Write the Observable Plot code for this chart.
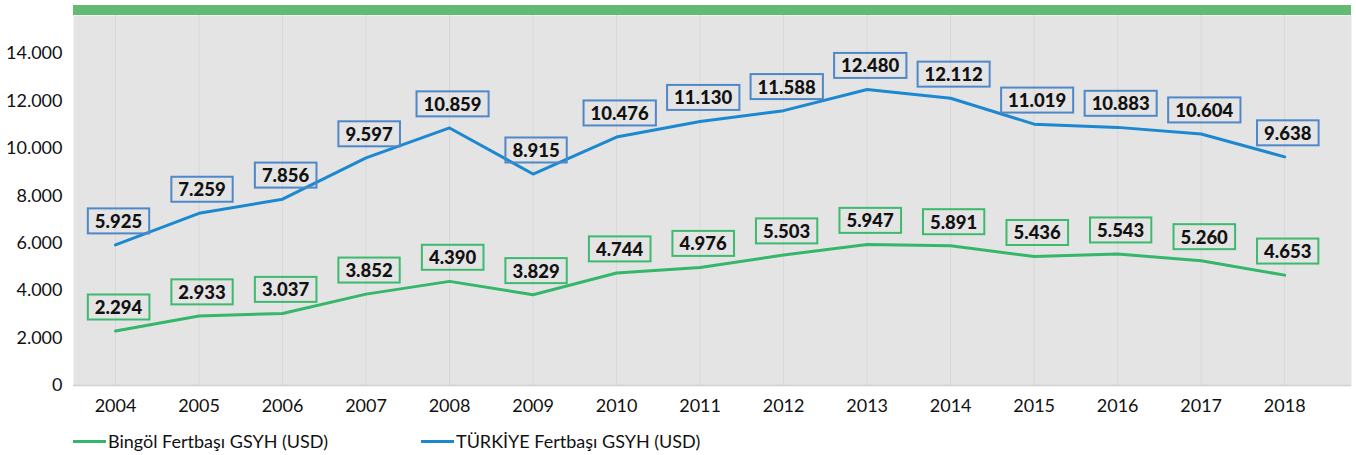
<!DOCTYPE html>
<html>
<head>
<meta charset="utf-8">
<script src="https://cdn.jsdelivr.net/npm/d3@7"></script>
<script src="https://cdn.jsdelivr.net/npm/@observablehq/plot@0.6"></script>
<style>
  html, body { margin: 0; padding: 0; background: #ffffff; }
  body { font-family: Lato, "Noto Sans", sans-serif; width: 1356px; height: 455px; overflow: hidden; }
  #wrap { position: relative; width: 1356px; }
  #topbar { position: absolute; left: 73px; top: 5px; width: 1278px; height: 10px; background: #63bb73; }
  #legend { position: absolute; left: 73px; top: 430px; display: flex; align-items: center; font-size: 18px; color: #111; }
  .item { display: flex; align-items: center; }
  .sw { width: 33px; height: 3px; margin-right: 2px; }
</style>
</head>
<body>
<div id="wrap">
  <div id="chart"></div>
  <div id="topbar"></div>
  <div id="legend"></div>
</div>
<script>
const years = [2004, 2005, 2006, 2007, 2008, 2009, 2010, 2011, 2012, 2013, 2014, 2015, 2016, 2017, 2018];
const turkiye = [5925, 7259, 7856, 9597, 10859, 8915, 10476, 11130, 11588, 12480, 12112, 11019, 10883, 10604, 9638];
const bingol = [2294, 2933, 3037, 3852, 4390, 3829, 4744, 4976, 5503, 5947, 5891, 5436, 5543, 5260, 4653];
const yTicks = [0, 2000, 4000, 6000, 8000, 10000, 12000, 14000];
const seriesNames = ["Bingöl Fertbaşı GSYH (USD)", "TÜRKİYE Fertbaşı GSYH (USD)"];

const blueLine = "#1b88d0", blueBox = "#4f88c8";
const greenLine = "#34b76a", greenBox = "#3cba6e";

const loc = d3.formatLocale({decimal: ",", thousands: ".", grouping: [3], currency: ["", ""]});
const fmt = loc.format(",");

const tData = years.map((y, i) => ({year: y, value: turkiye[i]}));
const bData = years.map((y, i) => ({year: y, value: bingol[i]}));

const chart = Plot.plot({
  width: 1356,
  height: 425,
  marginLeft: 73,
  marginRight: 5,
  marginTop: 15,
  marginBottom: 40,
  style: {fontFamily: "Lato, 'Noto Sans', sans-serif", fontSize: "18px", color: "#111", background: "transparent"},
  x: {type: "linear", domain: [2003.497, 2018.8], ticks: years, tickFormat: d => String(d), tickSize: 0, tickPadding: 14, label: null},
  y: {domain: [0, 15600], ticks: yTicks, tickFormat: fmt, tickSize: 0, tickPadding: 11, label: null},
  marks: [
    Plot.frame({fill: "#e4e4e4", stroke: null}),
    Plot.ruleX(years, {stroke: "#d8d8d8", strokeWidth: 1}),
    Plot.ruleY([0], {stroke: "#cfcfcf", strokeWidth: 1.5}),
    Plot.line(bData, {x: "year", y: "value", stroke: greenLine, strokeWidth: 3}),
    Plot.line(tData, {x: "year", y: "value", stroke: blueLine, strokeWidth: 3}),
    Plot.text(bData, {x: "year", y: "value", text: d => fmt(d.value), dy: -23, dx: 3, fontSize: 18.5, fontWeight: 900, fill: "#111", className: "lbl-green"}),
    Plot.text(tData, {x: "year", y: "value", text: d => fmt(d.value), dy: -23, dx: 3, fontSize: 18.5, fontWeight: 900, fill: "#111", className: "lbl-blue"})
  ]
});
document.getElementById("chart").appendChild(chart);

function boxes(cls, color) {
  const g = chart.querySelector("g." + cls);
  if (!g) return;
  const texts = Array.from(g.querySelectorAll("text"));
  const bg = document.createElementNS("http://www.w3.org/2000/svg", "g");
  const gt = g.getAttribute("transform");
  if (gt) bg.setAttribute("transform", gt);
  g.parentNode.insertBefore(bg, g);
  texts.forEach(t => {
    const b = t.getBBox();
    const r = document.createElementNS("http://www.w3.org/2000/svg", "rect");
    const cy = b.y + b.height / 2;
    r.setAttribute("x", b.x - 7);
    r.setAttribute("y", cy - 12.5);
    r.setAttribute("width", b.width + 14);
    r.setAttribute("height", 25);
    r.setAttribute("fill", "none");
    r.setAttribute("stroke", color);
    r.setAttribute("stroke-width", 2);
    const tr = t.getAttribute("transform");
    if (tr) r.setAttribute("transform", tr);
    bg.appendChild(r);
  });
}
boxes("lbl-green", greenBox);
boxes("lbl-blue", blueBox);

const legend = document.getElementById("legend");
[[seriesNames[0], greenLine], [seriesNames[1], blueLine]].forEach(([name, color]) => {
  const it = document.createElement("div");
  it.className = "item";
  const sw = document.createElement("div");
  sw.className = "sw";
  sw.style.background = color;
  const tx = document.createElement("span");
  tx.textContent = name;
  it.appendChild(sw); it.appendChild(tx);
  legend.appendChild(it);
});
const items = legend.querySelectorAll(".item");
const w0 = items[0].getBoundingClientRect().width;
items[0].style.marginRight = (421 - 73 - w0) + "px";
</script>
</body>
</html>
